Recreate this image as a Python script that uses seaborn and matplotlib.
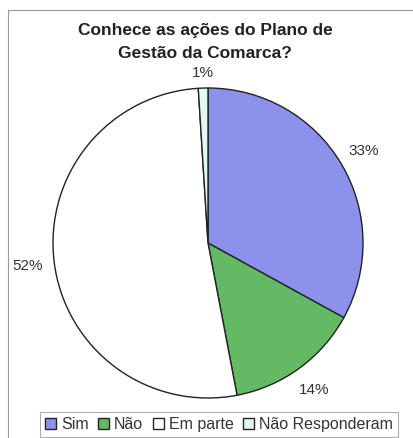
import numpy as np
import matplotlib
matplotlib.use("Agg")
import matplotlib.pyplot as plt
import seaborn as sns
from matplotlib.patches import Rectangle

# Data
categories = ["Sim", "Não", "Em parte", "Não Responderam"]
values = [33, 14, 52, 1]
colors = ["#8c91eb", "#64b964", "#ffffff", "#e4f7f7"]
title = "Conhece as ações do Plano de\nGestão da Comarca?"

sns.set_theme(style="white")
plt.rcParams['font.family'] = ['Liberation Sans', 'DejaVu Sans']

W, H = 413, 438
fig = plt.figure(figsize=(W / 100, H / 100), dpi=100)
fig.patch.set_facecolor("white")

# pie centre (208, 243) px from top-left, radius ~155 px
cx, cy, r = 208, 243, 155
ax = fig.add_axes([(cx - r) / W, (H - cy - r) / H, 2 * r / W, 2 * r / H])
wedges, texts, autotexts = ax.pie(
    values, colors=colors, startangle=90, counterclock=False,
    autopct=lambda p: f"{p:.0f}%", pctdistance=1.17, radius=1.0,
    wedgeprops=dict(edgecolor="#222222", linewidth=1.0),
    textprops=dict(fontsize=11, color="#333333"),
)
# the tiny top slice label sits a bit closer to the pie
w = wedges[3]
mid = np.deg2rad((w.theta1 + w.theta2) / 2)
autotexts[3].set_position((1.1 * np.cos(mid), 1.1 * np.sin(mid)))

ax.set_xlim(-1, 1)
ax.set_ylim(-1, 1)
ax.set_aspect("equal")
ax.axis("off")

fig.text(205 / W, 1 - 42 / H, title, ha="center", va="center",
         fontsize=12.5, fontweight="bold", color="#222222", linespacing=1.75)

# outer chart frame (left and top edges visible)
fig.add_artist(Rectangle((8 / W, -0.1), 1.2, (H - 10) / H + 0.1,
                         transform=fig.transFigure, fill=False,
                         edgecolor="#9a9a9a", linewidth=0.8))

leg = fig.legend(wedges, categories, loc="upper center", ncol=4,
                 bbox_to_anchor=(219 / W, (H - 412) / H),
                 bbox_transform=fig.transFigure, fontsize=11.5,
                 handlelength=0.7, handleheight=0.7, handletextpad=0.3,
                 columnspacing=0.6, borderpad=0.3, borderaxespad=0,
                 frameon=True, fancybox=False, edgecolor="#9a9a9a")
leg.get_frame().set_linewidth(0.8)
for t in leg.get_texts():
    t.set_color("#333333")

fig.savefig("out.png", dpi=100, facecolor="white")
